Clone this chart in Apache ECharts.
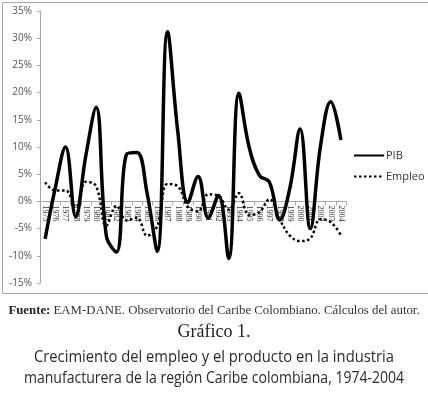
<!DOCTYPE html>
<html>
<head>
<meta charset="utf-8">
<script src="https://cdn.jsdelivr.net/npm/echarts@6/dist/echarts.min.js"></script>
<style>
html,body{margin:0;padding:0;background:#fff;}
#c{width:428px;height:397px;}
</style>
</head>
<body>
<div id="c"></div>
<script>
const years = ['1975','1976','1977','1978','1979','1980','1981','1982','1983','1984','1985','1986','1987','1988','1989','1990','1991','1992','1993','1994','1995','1996','1997','1998','1999','2000','2001','2002','2003','2004'];
const pib = [-6.9, 2.5, 10.0, -2.8, 8.5, 17.3, -6.3, -9.3, 8.7, 9.0, 1.5, -9.2, 31.2, 13.0, -0.2, 4.6, -3.0, 1.1, -10.5, 19.9, 10.0, 4.8, 3.5, -3.4, 2.5, 13.3, -5.0, 10.2, 18.3, 11.3];
const empleo = [3.5, 2.0, 2.0, -1.0, 3.6, 2.8, -4.5, -0.8, -3.5, -3.0, -6.3, -4.5, 3.2, 2.8, -1.0, -1.8, 1.3, 1.0, -1.5, 1.5, -2.5, -2.0, 0.4, -3.3, -6.3, -7.3, -6.8, -3.3, -3.8, -6.2];
const yTicks = {min: -15, max: 35, interval: 5};
const seriesNames = ['PIB', 'Empleo'];
const sourceLabel = 'Fuente:';
const sourceText = ' EAM-DANE. Observatorio del Caribe Colombiano. Cálculos del autor.';
const figLabel = 'Gráfico 1.';
const titleLines = ['Crecimiento del empleo y el producto en la industria', 'manufacturera de la región Caribe colombiana, 1974-2004'];

// layout
const W = 428, H = 397;
const gridTop = 11, gridBottomY = 283, gridLeft = 40, gridRight = 82;
const zeroY = gridTop + (yTicks.max - 0) / (yTicks.max - yTicks.min) * (gridBottomY - gridTop);

const titleFont = '17px "Open Sans"';
const titleTargets = [360, 380];
const mc = document.createElement('canvas').getContext('2d');
mc.font = titleFont;
const titleScales = titleLines.map((t, i) => titleTargets[i] / mc.measureText(t).width);

const chart = echarts.init(document.getElementById('c'), null, {renderer: 'canvas'});
chart.setOption({
  animation: false,
  backgroundColor: '#fff',
  grid: [
    {left: gridLeft, right: gridRight, top: gridTop, bottom: H - gridBottomY, containLabel: false},
    {left: gridLeft, right: gridRight, top: gridTop, bottom: H - zeroY, containLabel: false}
  ],
  legend: {
    orient: 'vertical', left: 353, top: 150, itemWidth: 30, itemHeight: 10, itemGap: 10, padding: 0,
    itemStyle: {opacity: 0},
    textStyle: {fontFamily: 'Open Sans', fontSize: 11, color: '#333', padding: [0, 0, 0, -3]},
    data: seriesNames
  },
  xAxis: [
    {type: 'category', data: years, boundaryGap: true, gridIndex: 0, show: false},
    {type: 'category', data: years, boundaryGap: true, gridIndex: 1, position: 'bottom', z: 0,
     axisLine: {show: true, onZero: false, lineStyle: {color: '#a8a8a8', width: 1}},
     axisTick: {show: true, length: 4, lineStyle: {color: '#a8a8a8'}},
     axisLabel: {rotate: -90, fontFamily: 'Liberation Serif', fontSize: 8, color: '#333', margin: 4, interval: 0}}
  ],
  yAxis: [
    {type: 'value', gridIndex: 0, min: yTicks.min, max: yTicks.max, interval: yTicks.interval,
     splitLine: {show: false},
     axisLine: {show: true, lineStyle: {color: '#a8a8a8'}},
     axisTick: {show: true, length: 3, lineStyle: {color: '#a8a8a8'}},
     axisLabel: {formatter: '{value}%', fontFamily: 'Open Sans', fontSize: 10, color: '#555', margin: 8}},
    {type: 'value', gridIndex: 1, min: 0, max: yTicks.max, show: false}
  ],
  series: [
    {name: seriesNames[0], type: 'line', data: pib, smooth: 0.4, symbol: 'none', xAxisIndex: 0, yAxisIndex: 0, z: 10,
     lineStyle: {color: '#000', width: 3.5}, itemStyle: {color: '#000'}},
    {name: seriesNames[1], type: 'line', data: empleo, smooth: 0.4, symbol: 'none', xAxisIndex: 0, yAxisIndex: 0, z: 9,
     lineStyle: {color: '#000', width: 2.5, type: [2.5, 2.5]}, itemStyle: {color: '#000'}}
  ],
  graphic: [
    {type: 'rect', left: 0, top: 0, shape: {x: 0.5, y: 0.5, width: 440, height: 291}, style: {fill: 'none', stroke: '#a8a8a8', lineWidth: 1}, silent: true},
    {type: 'text', x: W / 2, y: 311, style: {
      rich: {b: {fontFamily: 'Liberation Serif', fontWeight: 'bold', fontSize: 12.8, fill: '#222'},
             n: {fontFamily: 'Liberation Serif', fontSize: 12.8, fill: '#333'}},
      text: '{b|' + sourceLabel + '}{n|' + sourceText + '}', align: 'center', verticalAlign: 'middle'
    }},
    {type: 'text', x: W / 2, y: 332, style: {text: figLabel, fontFamily: 'Liberation Serif', fontSize: 18, fill: '#222', align: 'center', verticalAlign: 'middle'}},
    {type: 'text', x: W / 2, y: 357, scaleX: titleScales[0], style: {text: titleLines[0], font: titleFont, fill: '#2a2a2a', align: 'center', verticalAlign: 'middle'}},
    {type: 'text', x: W / 2, y: 378, scaleX: titleScales[1], style: {text: titleLines[1], font: titleFont, fill: '#2a2a2a', align: 'center', verticalAlign: 'middle'}}
  ]
});
</script>
</body>
</html>
